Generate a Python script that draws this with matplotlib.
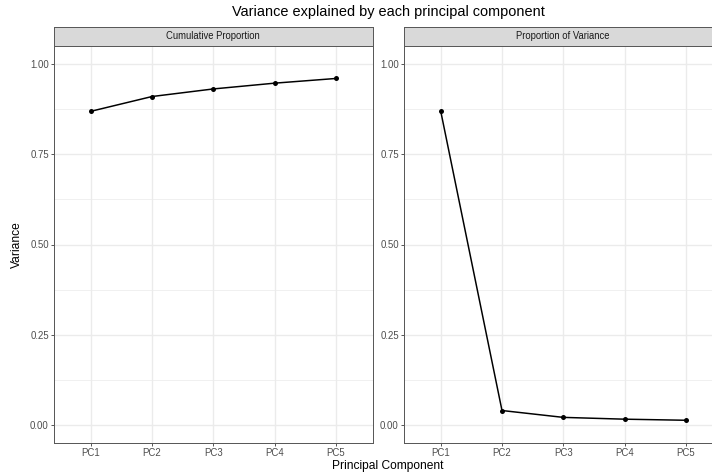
import matplotlib
matplotlib.use("Agg")
import matplotlib.pyplot as plt
from matplotlib.ticker import FixedLocator

plt.rcParams['font.family'] = ['Liberation Sans', 'DejaVu Sans']

# values
components = ["PC1", "PC2", "PC3", "PC4", "PC5"]
cumulative = [0.869, 0.910, 0.931, 0.947, 0.960]
proportion = [0.869, 0.040, 0.021, 0.016, 0.013]
panels = [("Cumulative Proportion", cumulative), ("Proportion of Variance", proportion)]

W, H = 712, 475
fig = plt.figure(figsize=(W / 72, H / 72), dpi=72)

# panel geometry in pixels (right panel runs off the canvas like the original)
left_edges = [54, 404]
panel_w = 318.5
top, bottom = 46, 443
strip_top = 26.5
border = "#595959"

def fx(px):
    return px / W

def fy(py):
    return (H - py) / H

for (name, vals), x0 in zip(panels, left_edges):
    ax = fig.add_axes([fx(x0), fy(bottom), panel_w / W, (bottom - top) / H])
    xs = list(range(1, len(components) + 1))
    ax.plot(xs, vals, color="black", lw=1.5, zorder=3, solid_capstyle="butt")
    ax.scatter(xs, vals, s=25, color="black", zorder=4, linewidths=0)
    ax.set_xlim(0.4, 5.6)
    ax.set_ylim(-0.05, 1.05)
    ax.set_xticks(xs)
    ax.set_xticklabels(components)
    ax.set_yticks([0, 0.25, 0.5, 0.75, 1.0])
    ax.set_yticklabels(["0.00", "0.25", "0.50", "0.75", "1.00"])
    ax.yaxis.set_minor_locator(FixedLocator([0.125, 0.375, 0.625, 0.875]))
    ax.tick_params(axis="y", which="minor", length=0)
    ax.grid(True, which="major", color="#ebebeb", lw=1.4, zorder=0)
    ax.grid(True, which="minor", axis="y", color="#ebebeb", lw=0.7, zorder=0)
    ax.set_axisbelow(True)
    ax.tick_params(which="major", length=3, width=1.0, color=border,
                   labelcolor="#4d4d4d", labelsize=9.6, pad=2.2)
    for s in ax.spines.values():
        s.set_color(border)
        s.set_linewidth(1.0)

    # facet strip
    sax = fig.add_axes([fx(x0), fy(top), panel_w / W, (top - strip_top) / H])
    sax.set_facecolor("#d9d9d9")
    sax.set_xticks([])
    sax.set_yticks([])
    for s in sax.spines.values():
        s.set_color(border)
        s.set_linewidth(1.0)
    sax.text(0.5, 0.5, name, ha="center", va="center", fontsize=9.5,
             color="#1a1a1a", transform=sax.transAxes)

center_x = (left_edges[0] + left_edges[1] + panel_w) / 2
fig.text(fx(center_x), fy(12), "Variance explained by each principal component",
         ha="center", va="center", fontsize=14.5, color="black")
fig.text(fx(center_x), fy(466), "Principal Component", ha="center", va="center",
         fontsize=12, color="black")
fig.text(fx(17), fy((top + bottom) / 2), "Variance", ha="center", va="center",
         rotation=90, fontsize=12, color="black")

fig.savefig("out.png", dpi=72, facecolor="white")
